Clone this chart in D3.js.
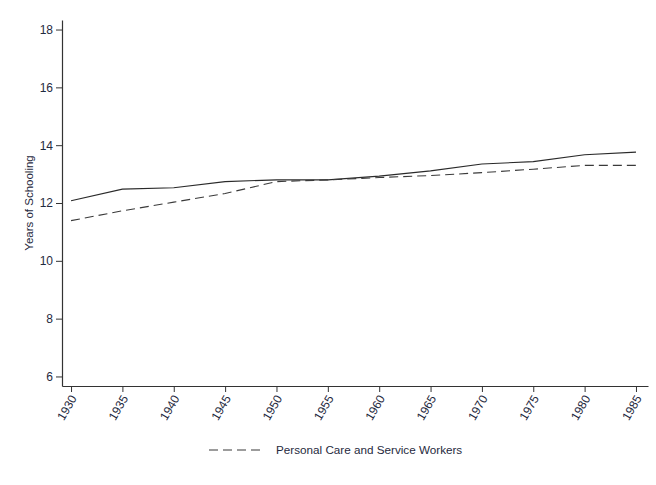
<!DOCTYPE html>
<html>
<head>
<meta charset="utf-8">
<script src="https://cdn.jsdelivr.net/npm/d3@7"></script>
<style>
  html, body { margin: 0; padding: 0; background: #fff; }
  svg { display: block; font-family: "Liberation Sans", Arial, sans-serif; }
</style>
</head>
<body>
<svg id="chart" width="656" height="485"></svg>
<script>
const years = [1930, 1935, 1940, 1945, 1950, 1955, 1960, 1965, 1970, 1975, 1980, 1985];
const allWorkers = [12.08, 12.48, 12.53, 12.74, 12.80, 12.80, 12.93, 13.11, 13.35, 13.43, 13.67, 13.76];
const careWorkers = [11.39, 11.73, 12.03, 12.33, 12.74, 12.80, 12.88, 12.95, 13.05, 13.17, 13.30, 13.30];
const yTicks = [6, 8, 10, 12, 14, 16, 18];
const legendLabel = "Personal Care and Service Workers";
const yLabel = "Years of Schooling";

(function () {
const svg = d3.select("#chart");
const mLeft = 62, mRight = 648, mTop = 20, mBottom = 386;
const textColor = "#1f2a40";
const axisColor = "#333333";

const x = d3.scaleLinear().domain([1929.12, 1986.17]).range([mLeft, mRight]);
const y = d3.scaleLinear().domain([5.67, 18.33]).range([mBottom, mTop]);

// Y axis
const yAxis = svg.append("g")
  .attr("transform", `translate(${mLeft},0)`)
  .call(d3.axisLeft(y).tickValues(yTicks).tickSizeInner(6).tickSizeOuter(0).tickPadding(3).tickFormat(d3.format("d")));
yAxis.select(".domain").attr("stroke", axisColor).attr("stroke-width", 1.2);
yAxis.selectAll(".tick line").attr("stroke", axisColor);
yAxis.selectAll(".tick text").attr("fill", textColor).style("font-size", "12px");

// X axis
const xAxis = svg.append("g")
  .attr("transform", `translate(0,${mBottom})`)
  .call(d3.axisBottom(x).tickValues(years).tickSizeInner(6).tickSizeOuter(0).tickFormat(d3.format("d")));
xAxis.select(".domain").attr("stroke", axisColor).attr("stroke-width", 1.2);
xAxis.selectAll(".tick line").attr("stroke", axisColor);
xAxis.selectAll(".tick text")
  .attr("fill", textColor)
  .style("font-size", "12px")
  .attr("text-anchor", "end")
  .attr("dy", "0.35em")
  .attr("transform", "translate(2,10) rotate(-60)")
  .attr("x", 0).attr("y", 0);

// Y label
svg.append("text")
  .attr("transform", `translate(33,${(mTop + mBottom) / 2}) rotate(-90)`)
  .attr("text-anchor", "middle")
  .attr("fill", textColor)
  .style("font-size", "11.5px")
  .text(yLabel);

const line = d3.line().x((d, i) => x(years[i])).y(d => y(d));

svg.append("path")
  .datum(allWorkers)
  .attr("d", line)
  .attr("fill", "none")
  .attr("stroke", "#2a2a2a")
  .attr("stroke-width", 1.1);

svg.append("path")
  .datum(careWorkers)
  .attr("d", line)
  .attr("fill", "none")
  .attr("stroke", "#3a3a3a")
  .attr("stroke-width", 1.1)
  .attr("stroke-dasharray", "9,5");

// Legend
const lg = svg.append("g");
lg.append("line")
  .attr("x1", 209).attr("x2", 263).attr("y1", 450).attr("y2", 450)
  .attr("stroke", "#3a3a3a").attr("stroke-width", 1.1)
  .attr("stroke-dasharray", "9,5");
lg.append("text")
  .attr("x", 276).attr("y", 450).attr("dy", "0.35em")
  .attr("fill", textColor)
  .style("font-size", "11.7px")
  .text(legendLabel);
})();
</script>
</body>
</html>
